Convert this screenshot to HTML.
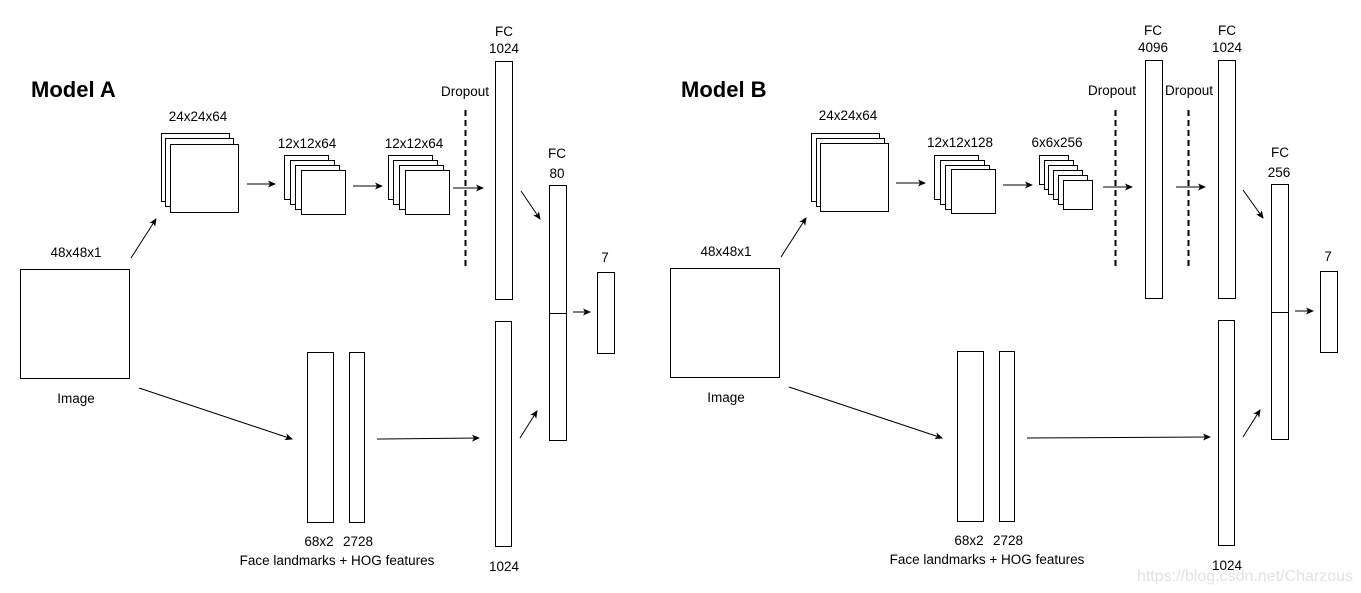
<!DOCTYPE html>
<html><head><style>
html,body{margin:0;padding:0;background:#fff;}
svg{display:block;font-family:"Liberation Sans",sans-serif;}
</style></head><body>
<svg width="1361" height="593" viewBox="0 0 1361 593" xmlns="http://www.w3.org/2000/svg">
<defs><marker id="a" markerWidth="8" markerHeight="8" refX="7" refY="4" orient="auto" markerUnits="userSpaceOnUse"><path d="M0,0.5 L8,4 L0,7.5 L2,4 Z" fill="#000"/></marker></defs>
<g fill="#fff" stroke="#000" stroke-width="1">
<!-- Model A -->
<rect x="20.5" y="269.5" width="109" height="109"/>
<rect x="161.5" y="133.5" width="68" height="68"/><rect x="165.5" y="138.5" width="68" height="68"/><rect x="170.5" y="144.5" width="68" height="68"/>
<rect x="284.5" y="155.5" width="44" height="44"/><rect x="290.5" y="160.5" width="44" height="44"/><rect x="295.5" y="165.5" width="44" height="44"/><rect x="301.5" y="170.5" width="44" height="44"/>
<rect x="388.5" y="155.5" width="44" height="44"/><rect x="393.5" y="160.5" width="44" height="44"/><rect x="399.5" y="165.5" width="44" height="44"/><rect x="405.5" y="170.5" width="44" height="44"/>
<rect x="307.5" y="352.5" width="26" height="170"/><rect x="349.5" y="352.5" width="15" height="170"/>
<rect x="495.5" y="61.5" width="17" height="238"/><rect x="495.5" y="321.5" width="16" height="225"/>
<rect x="549.5" y="185.5" width="17" height="255"/><line x1="549" y1="313.5" x2="567" y2="313.5"/>
<rect x="597.5" y="272.5" width="17" height="81"/>
<!-- Model B -->
<rect x="670.5" y="268.5" width="109" height="109"/>
<rect x="811.5" y="133.5" width="68" height="68"/><rect x="816.5" y="138.5" width="68" height="68"/><rect x="820.5" y="143.5" width="68" height="68"/>
<rect x="934.5" y="155.5" width="44" height="44"/><rect x="940.5" y="160.5" width="44" height="44"/><rect x="945.5" y="165.5" width="44" height="44"/><rect x="951.5" y="169.5" width="44" height="44"/>
<rect x="1039.5" y="155.5" width="29" height="29"/><rect x="1044.5" y="160.5" width="29" height="29"/><rect x="1048.5" y="165.5" width="29" height="29"/><rect x="1053.5" y="170.5" width="29" height="29"/><rect x="1058.5" y="175.5" width="29" height="29"/><rect x="1063.5" y="180.5" width="29" height="29"/>
<rect x="957.5" y="351.5" width="26" height="170"/><rect x="999.5" y="351.5" width="15" height="170"/>
<rect x="1145.5" y="60.5" width="17" height="238"/>
<rect x="1218.5" y="60.5" width="17" height="238"/><rect x="1218.5" y="320.5" width="16" height="225"/>
<rect x="1271.5" y="184.5" width="17" height="255"/><line x1="1271" y1="312.5" x2="1289" y2="312.5"/>
<rect x="1320.5" y="271.5" width="17" height="81"/>
</g>
<g stroke="#000" stroke-width="1" fill="none" marker-end="url(#a)">
<line x1="131" y1="258" x2="156" y2="219"/><line x1="139" y1="388" x2="292" y2="439"/>
<line x1="377" y1="439" x2="479" y2="438"/>
<line x1="247" y1="184" x2="275" y2="184"/><line x1="353" y1="186" x2="382" y2="186"/><line x1="453" y1="188" x2="483" y2="188"/>
<line x1="521" y1="191" x2="540" y2="219"/><line x1="520" y1="438" x2="537" y2="411"/>
<line x1="573" y1="312" x2="590" y2="312"/>
<line x1="781" y1="257" x2="806" y2="218"/><line x1="789" y1="387" x2="942" y2="438"/>
<line x1="1027" y1="438" x2="1210" y2="437"/>
<line x1="896" y1="183" x2="925" y2="183"/><line x1="1003" y1="185" x2="1032" y2="185"/><line x1="1103" y1="187" x2="1132" y2="187"/>
<line x1="1176" y1="187" x2="1205" y2="187"/>
<line x1="1243" y1="190" x2="1263" y2="218"/><line x1="1243" y1="437" x2="1260" y2="410"/>
<line x1="1295" y1="311" x2="1313" y2="311"/>
</g>
<g stroke="#000" stroke-width="2" stroke-dasharray="6,4">
<line x1="465.5" y1="110" x2="465.5" y2="269"/><line x1="1115.5" y1="110" x2="1115.5" y2="268"/><line x1="1188.5" y1="110" x2="1188.5" y2="268"/>
</g>
<g font-size="13.5" text-anchor="middle" fill="#000">
<text x="76" y="257">48x48x1</text><text x="76" y="403">Image</text>
<text x="198" y="121">24x24x64</text><text x="307" y="148">12x12x64</text><text x="414" y="148">12x12x64</text>
<text x="465" y="96">Dropout</text><text x="504" y="36">FC</text><text x="504" y="53">1024</text>
<text x="557" y="158">FC</text><text x="557" y="178">80</text><text x="605" y="262">7</text>
<text x="319" y="546">68x2</text><text x="358" y="546">2728</text><text x="337" y="565">Face landmarks + HOG features</text><text x="504" y="571">1024</text>
<text x="726" y="256">48x48x1</text><text x="726" y="402">Image</text>
<text x="848" y="120">24x24x64</text><text x="960" y="147">12x12x128</text><text x="1057" y="147">6x6x256</text>
<text x="1112" y="95">Dropout</text><text x="1189" y="95">Dropout</text>
<text x="1153" y="35">FC</text><text x="1153" y="52">4096</text><text x="1227" y="35">FC</text><text x="1227" y="52">1024</text>
<text x="1280" y="157">FC</text><text x="1279" y="177">256</text><text x="1328" y="261">7</text>
<text x="969" y="545">68x2</text><text x="1008" y="545">2728</text><text x="987" y="564">Face landmarks + HOG features</text><text x="1227" y="570">1024</text>
</g>
<text x="31" y="97" font-size="22" font-weight="bold">Model A</text>
<text x="681" y="97" font-size="22" font-weight="bold">Model B</text>
<text x="1245" y="581" font-size="16" text-anchor="middle" fill="#e2e2e2">https://blog.csdn.net/Charzous</text>
</svg>
</body></html>
